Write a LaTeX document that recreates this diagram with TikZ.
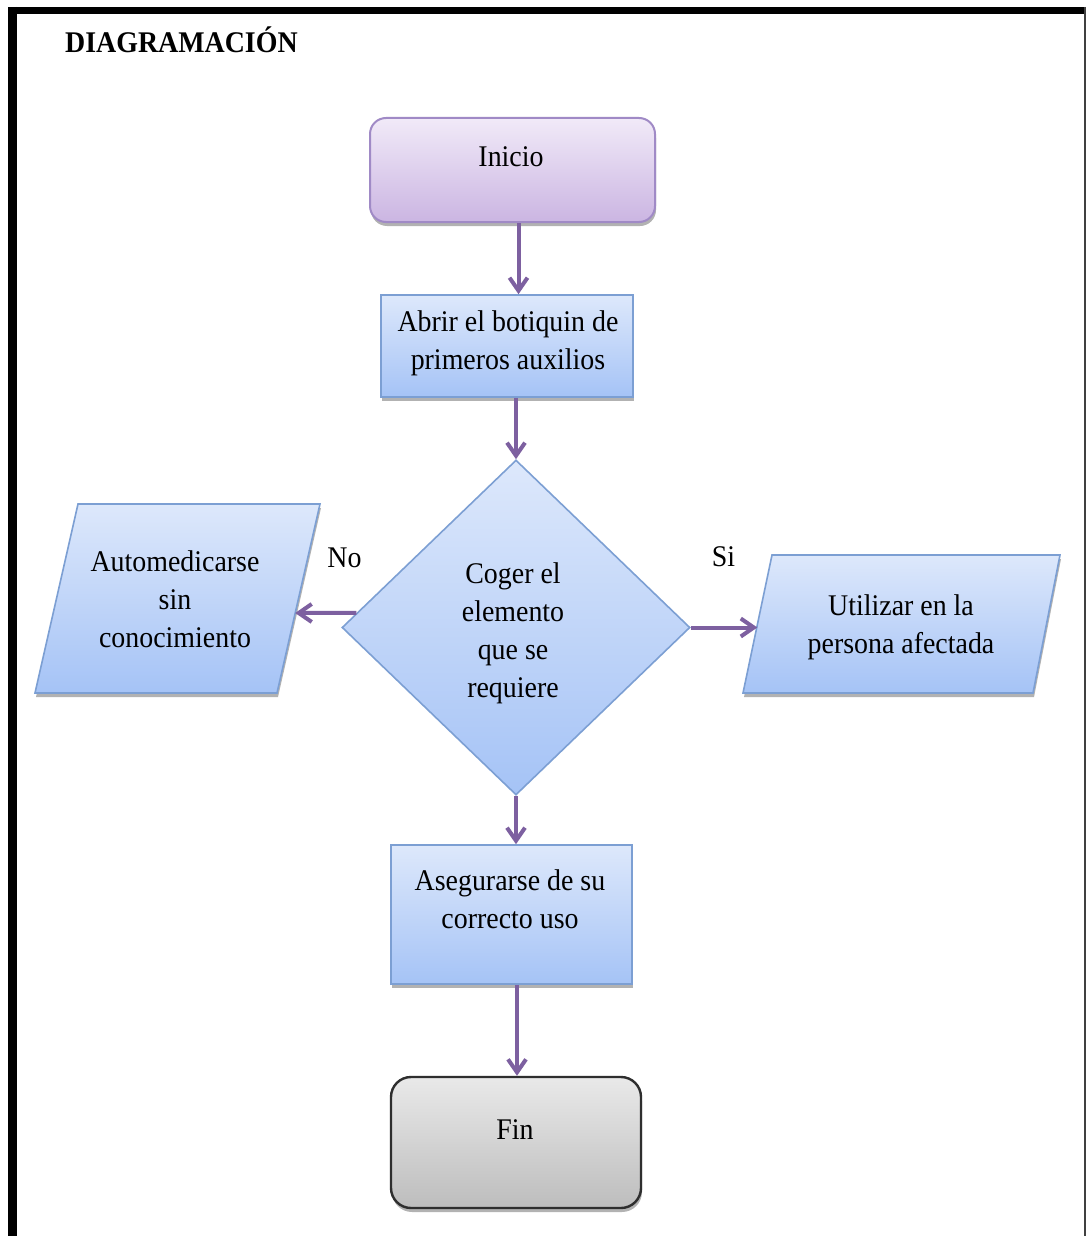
\documentclass[tikz,border=0pt]{standalone}
\usepackage{fontspec}
\setmainfont{Liberation Serif}[FakeStretch=0.93]
\usetikzlibrary{shapes.geometric,arrows.meta,shadows,calc}
\definecolor{boxtop}{HTML}{DDE8FB}
\definecolor{boxbot}{HTML}{A5C3F6}
\definecolor{boxline}{HTML}{7C9FD3}
\definecolor{purtop}{HTML}{F1EAF8}
\definecolor{purbot}{HTML}{CBB5E2}
\definecolor{purline}{HTML}{A08AC6}
\definecolor{graytop}{HTML}{E9E9E9}
\definecolor{graybot}{HTML}{BDBDBD}
\definecolor{grayline}{HTML}{2E2E2E}
\definecolor{arrowc}{HTML}{7D60A0}
\begin{document}
\begin{tikzpicture}[x=1pt,y=-1pt,
  shade/.style={drop shadow={shadow xshift=1pt,shadow yshift=-4pt,opacity=0.3,fill=black}},
  bluefill/.style={draw=boxline,line width=1.6pt,top color=boxtop,bottom color=boxbot,inner sep=0pt},
  bluebox/.style={shade,bluefill},
  rectbox/.style={bluebox,rectangle},
  startbox/.style={shade,rectangle,rounded corners=16pt,draw=purline,line width=2pt,top color=purtop,bottom color=purbot,inner sep=0pt},
  endbox/.style={shade,rectangle,rounded corners=20pt,draw=grayline,line width=2.4pt,top color=graytop,bottom color=graybot,inner sep=0pt},
  txt/.style={font=\fontsize{30}{38}\selectfont,align=center,inner sep=0pt},
  arr/.style={draw=arrowc,line width=4pt,-{Straight Barb[length=13pt,width=18pt]}}
]
\useasboundingbox (0,0) rectangle (1086,1236);
\fill[white] (0,0) rectangle (1086,1236);
% frame
\draw[line width=7pt] (8,10.5) -- (1086,10.5);
\draw[line width=8.5pt] (12.25,7) -- (12.25,1236);
\draw[line width=2pt,black!75] (1085,7) -- (1085,1236);
% title
\node[anchor=base west,inner sep=0pt,font=\fontsize{30}{36}\selectfont\bfseries] (title) at (65,53) {DIAGRAMACIÓN};
% shapes
\node[startbox,minimum width=285pt,minimum height=104pt] (inicio) at (512.5,170) {};
\node[rectbox,minimum width=252pt,minimum height=102pt] (abrir) at (507,346) {};
\node[bluefill,diamond,minimum width=348pt,minimum height=335pt] (dia) at (516,627.5) {};
\path[bluebox] (78,504) -- (320,504) -- (277,693) -- (35,693) -- cycle;
\coordinate (autoE) at (295.2,613);
\path[bluebox] (772,555) -- (1060,555) -- (1033,693) -- (743,693) -- cycle;
\coordinate (utilW) at (757.3,627.5);
\node[rectbox,minimum width=241pt,minimum height=139pt] (aseg) at (511.5,914.5) {};
\node[endbox,minimum width=250pt,minimum height=131pt] (fin) at (516,1142.5) {};
% texts
\node[txt] (tinicio) at (511,156.5) {Inicio};
\node[txt] (tabrir) at (508,342.8) {Abrir el botiquin de\\primeros auxilios};
\node[txt] (tdia) at (513,632.8) {Coger el\\elemento\\que se\\requiere};
\node[txt] (tauto) at (175,599.5) {Automedicarse\\sin\\conocimiento};
\node[txt] (tutil) at (901,626.8) {Utilizar en la\\persona afectada};
\node[txt] (taseg) at (510,899.5) {Asegurarse de su\\correcto uso};
\node[txt] (tfin) at (515,1129.5) {Fin};
\node[txt] (lno) at (344.5,557.5) {No};
\node[txt] (lsi) at (723.5,556.5) {Si};
% connectors
\draw[arr] ([xshift=6pt]inicio.south) -- ([xshift=6pt]inicio.south |- abrir.north);
\draw[arr] (dia.north |- abrir.south) -- (dia.north);
\draw[arr] ($(dia.west)!0.0866!(dia.north)$) -- (autoE);
\draw[arr] (dia.east) -- (utilW);
\draw[arr] (dia.south) -- (dia.south |- aseg.north);
\draw[arr] ([xshift=5.5pt]aseg.south) -- ([xshift=5.5pt]aseg.south |- fin.north);
\end{tikzpicture}
\end{document}
